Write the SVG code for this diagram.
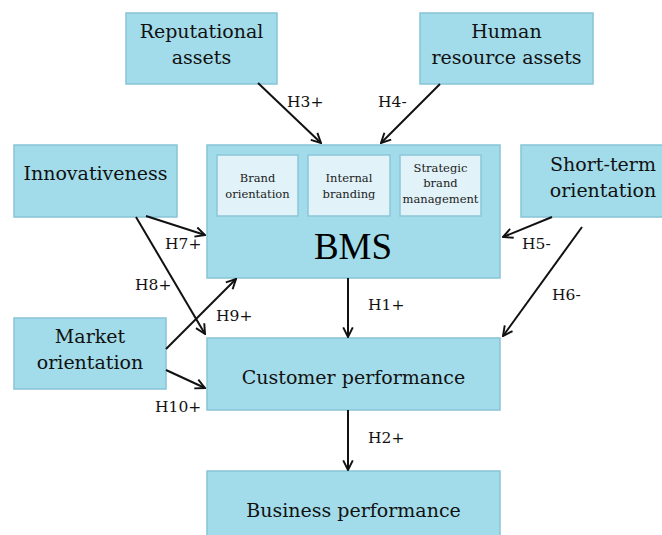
<svg xmlns="http://www.w3.org/2000/svg" width="662" height="535" viewBox="0 0 662 535">
  <defs>
    <style>
      .box { fill: #a2dcea; stroke: #86c4d6; stroke-width: 1.5; }
      .inner { fill: #e1f2f8; stroke: #8ac6d8; stroke-width: 1.5; }
      .lbl { font-family: "DejaVu Serif", "Liberation Serif", serif; font-size: 19px; fill: #111; text-anchor: middle; }
      .small { font-family: "DejaVu Serif", "Liberation Serif", serif; font-size: 11.5px; fill: #222; text-anchor: middle; }
      .big { font-family: "Liberation Serif", "DejaVu Serif", serif; font-size: 37px; fill: #000; text-anchor: middle; }
      .hyp { font-family: "DejaVu Serif", "Liberation Serif", serif; font-size: 15.5px; fill: #111; }
      .conn { stroke: #111; stroke-width: 2; fill: none; marker-end: url(#head); }
    </style>
    <marker id="head" viewBox="0 0 10 10" refX="9" refY="5" markerWidth="6" markerHeight="6" orient="auto" markerUnits="strokeWidth">
      <path d="M1,1 L9,5 L1,9" fill="none" stroke="#111" stroke-width="1.6"/>
    </marker>
  </defs>
  <rect width="662" height="535" fill="#fff"/>

  <g id="reputational">
    <rect class="box" x="126" y="13" width="151" height="71"/>
    <text class="lbl" x="201.5" y="38">Reputational</text>
    <text class="lbl" x="201.5" y="64">assets</text>
  </g>

  <g id="human">
    <rect class="box" x="420" y="13" width="173" height="71"/>
    <text class="lbl" x="506.5" y="38">Human</text>
    <text class="lbl" x="506.5" y="64">resource assets</text>
  </g>

  <g id="bms">
    <rect class="box" x="207" y="145" width="293" height="133"/>
    <rect class="inner" x="217" y="155" width="81" height="61"/>
    <text class="small" x="257.5" y="182">Brand</text>
    <text class="small" x="257.5" y="198">orientation</text>
    <rect class="inner" x="308" y="155" width="82" height="61"/>
    <text class="small" x="349" y="182">Internal</text>
    <text class="small" x="349" y="198">branding</text>
    <rect class="inner" x="400" y="155" width="81" height="61"/>
    <text class="small" x="440.5" y="172">Strategic</text>
    <text class="small" x="440.5" y="187">brand</text>
    <text class="small" x="440.5" y="203">management</text>
    <text class="big" x="353" y="259">BMS</text>
  </g>

  <g id="innovativeness">
    <rect class="box" x="14" y="145" width="163" height="72"/>
    <text class="lbl" x="95.5" y="180">Innovativeness</text>
  </g>

  <g id="short-term">
    <rect class="box" x="521" y="145" width="150" height="72"/>
    <text class="lbl" x="603" y="171">Short-term</text>
    <text class="lbl" x="603" y="197">orientation</text>
  </g>

  <g id="market">
    <rect class="box" x="14" y="318" width="152" height="71"/>
    <text class="lbl" x="90" y="343">Market</text>
    <text class="lbl" x="90" y="369">orientation</text>
  </g>

  <g id="customer">
    <rect class="box" x="207" y="338" width="293" height="72"/>
    <text class="lbl" x="353.5" y="384">Customer performance</text>
  </g>

  <g id="business">
    <rect class="box" x="207" y="471" width="293" height="72"/>
    <text class="lbl" x="353.5" y="517">Business performance</text>
  </g>

  <g id="connectors">
    <line class="conn" x1="258" y1="83" x2="321" y2="143"/>
    <line class="conn" x1="440" y1="84" x2="381" y2="143"/>
    <line class="conn" x1="146" y1="216" x2="205" y2="235"/>
    <line class="conn" x1="136" y1="217" x2="205" y2="334"/>
    <line class="conn" x1="166" y1="349" x2="236" y2="279"/>
    <line class="conn" x1="166" y1="370" x2="205" y2="388"/>
    <line class="conn" x1="552" y1="217" x2="503" y2="237"/>
    <line class="conn" x1="582" y1="227" x2="503" y2="336"/>
    <line class="conn" x1="348" y1="278" x2="348" y2="337"/>
    <line class="conn" x1="348" y1="410" x2="348" y2="470"/>
  </g>

  <g id="labels">
    <text class="hyp" x="287" y="107">H3+</text>
    <text class="hyp" x="378" y="107">H4-</text>
    <text class="hyp" x="165" y="249">H7+</text>
    <text class="hyp" x="135" y="290">H8+</text>
    <text class="hyp" x="216" y="321">H9+</text>
    <text class="hyp" x="155" y="412">H10+</text>
    <text class="hyp" x="522" y="249">H5-</text>
    <text class="hyp" x="552" y="300">H6-</text>
    <text class="hyp" x="368" y="310">H1+</text>
    <text class="hyp" x="368" y="443">H2+</text>
  </g>
</svg>
